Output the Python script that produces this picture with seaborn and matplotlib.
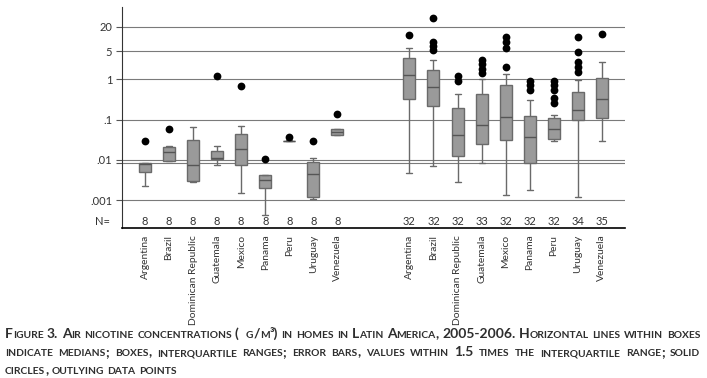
import numpy as np
import pandas as pd
import matplotlib
matplotlib.use("Agg")
import matplotlib.pyplot as plt
import matplotlib.transforms as mtransforms
from matplotlib.ticker import NullLocator
import seaborn as sns

countries = ["Argentina", "Brazil", "Dominican Republic", "Guatemala", "Mexico",
             "Panama", "Peru", "Uruguay", "Venezuela"]

# left block, N=8 per country (ug/m3)
n_left = [8, 8, 8, 8, 8, 8, 8, 8, 8]
low_left = [0.0023, 0.0094, 0.0029, 0.0075, 0.0015, 0.00043, 0.0295, 0.00105, 0.042]
q1_left = [0.0049, 0.0094, 0.0030, 0.0105, 0.0073, 0.0020, 0.0298, 0.00118, 0.042]
med_left = [0.0080, 0.016, 0.0075, 0.011, 0.0187, 0.0032, 0.030, 0.0045, 0.050]
q3_left = [0.0082, 0.0209, 0.0312, 0.0163, 0.0447, 0.0043, 0.0302, 0.0089, 0.059]
high_left = [0.0082, 0.0221, 0.0667, 0.0221, 0.068, 0.0043, 0.0305, 0.011, 0.059]
out_left = [[0.030], [0.057], [], [1.21], [0.69], [0.0107], [0.0377], [0.0294], [0.14]]

# right block, N=32..35
n_right = [32, 32, 32, 33, 32, 32, 32, 34, 35]
low_right = [0.00465, 0.0071, 0.00283, 0.0082, 0.00135, 0.00176, 0.029, 0.00118, 0.029]
q1_right = [0.33, 0.217, 0.0125, 0.0244, 0.0317, 0.0082, 0.0336, 0.10, 0.108]
med_right = [1.26, 0.63, 0.0415, 0.072, 0.114, 0.0364, 0.057, 0.173, 0.319]
q3_right = [3.32, 1.67, 0.19, 0.42, 0.72, 0.125, 0.108, 0.484, 1.10]
high_right = [5.9, 3.01, 0.43, 1.0, 1.33, 0.31, 0.13, 0.94, 2.69]
out_right = [[12.4], [32.6, 8.3, 6.7, 5.33], [1.21, 0.91], [3.0, 2.36, 1.83, 1.46],
             [11.0, 8.3, 6.1, 2.05], [0.91, 0.71, 0.54], [0.91, 0.71, 0.54, 0.337, 0.254],
             [11.0, 4.85, 2.73, 2.05, 1.54], [13.3]]

ytick_vals = [0.001, 0.0084, 0.01, 0.1, 1, 5, 20]
ytick_labels = [".001", "", ".01", ".1", "1", "5", "20"]

caption_lines = [
    "Figure 3. Air nicotine concentrations (\u00a0\u00a0g/m\u00b3) in homes in Latin America, 2005-2006. Horizontal lines within boxes",
    "indicate medians; boxes, interquartile ranges; error bars, values within 1.5 times the interquartile range; solid",
    "circles, outlying data points",
]

left_keys = [c + " (a)" for c in countries]
right_keys = [c + " (b)" for c in countries]
order = left_keys + ["gap1", "gap2"] + right_keys

box_rows = []
out_rows = []
blocks = [(left_keys, low_left, q1_left, med_left, q3_left, high_left, out_left),
          (right_keys, low_right, q1_right, med_right, q3_right, high_right, out_right)]
for keys, lo, q1, md, q3, hi, outs in blocks:
    for i, k in enumerate(keys):
        for v in (lo[i], q1[i], md[i], q3[i], hi[i]):
            box_rows.append({"slot": k, "value": v})
        for v in outs[i]:
            out_rows.append({"slot": k, "value": v})
box_df = pd.DataFrame(box_rows)
out_df = pd.DataFrame(out_rows)

sns.set_theme(style="white")
plt.rcParams["font.family"] = ["Lato", "DejaVu Sans"]

fig = plt.figure(figsize=(7.07, 3.78), dpi=100)
ax = fig.add_axes([0.1726, 0.3976, 0.7115, 0.584])

line_c = "#6a6a6a"
sns.boxplot(data=box_df, x="slot", y="value", order=order, log_scale=True,
            whis=(0, 100), showfliers=False, width=0.5, color="#9a9a9a",
            saturation=1, linecolor=line_c, linewidth=1.0, ax=ax,
            medianprops={"color": "#555555", "linewidth": 1.0},
            capprops={"color": line_c}, whiskerprops={"color": line_c})
sns.stripplot(data=out_df, x="slot", y="value", order=order, jitter=False,
              color="black", size=5.6, linewidth=0, ax=ax, zorder=5)

ax.set_ylim(0.000208, 62)
ax.set_xlim(-0.957, 19.97)
ax.set_yticks(ytick_vals)
ax.set_yticklabels(ytick_labels)
ax.yaxis.set_minor_locator(NullLocator())
ax.set_xticks(range(len(order)))
ax.set_xticklabels(countries + ["", ""] + countries, rotation=90)
ax.grid(axis="y", color="#7a7a7a", linewidth=0.8)
ax.grid(axis="x", visible=False)
ax.set_axisbelow(True)
ax.set_xlabel("")
ax.set_ylabel("")

ax.tick_params(axis="x", length=0, pad=5, labelsize=7.4, labelcolor="#333333")
ax.tick_params(axis="y", left=True, length=4, width=0.8, color="#555555",
               labelsize=8, pad=3, labelcolor="#333333")
for s in ("top", "right"):
    ax.spines[s].set_visible(False)
ax.spines["left"].set_color("#333333")
ax.spines["left"].set_linewidth(0.8)
ax.spines["bottom"].set_color("black")
ax.spines["bottom"].set_linewidth(1.2)

# N= row
trans = mtransforms.blended_transform_factory(ax.transData, ax.transAxes)
for keys, ns in ((left_keys, n_left), (right_keys, n_right)):
    for k, n in zip(keys, ns):
        ax.text(order.index(k), 0.03, str(n), transform=trans, ha="center",
                va="center", fontsize=8, color="#333333")
ax.text(-0.024, 0.03, "N=", transform=ax.transAxes, ha="right", va="center",
        fontsize=8, color="#333333")

# caption in small caps, justified
renderer = fig.canvas.get_renderer()
W, H = fig.bbox.width, fig.bbox.height
big, small = 10.0, 7.4
cap_color = "#2e2e2e"


def make_word(word, scale):
    runs = []
    for ch in word:
        sz = small if ch.islower() else big
        if runs and runs[-1][1] == sz:
            runs[-1][0] += ch.upper()
        else:
            runs.append([ch.upper(), sz])
    texts = []
    for s, sz in runs:
        t = fig.text(0, 0, s, fontsize=sz * scale, fontweight="bold",
                     color=cap_color, va="baseline", ha="left")
        texts.append(t)
    widths = [t.get_window_extent(renderer).width for t in texts]
    return texts, widths


def natural_width(line):
    # width at scale 1 with a normal word gap, used to pick a common scale
    words = [make_word(w, 1.0) for w in line.split(" ")]
    total = sum(sum(w[1]) for w in words)
    for texts, _ in words:
        for t in texts:
            t.remove()
    return total + 0.32 * small * 100 / 72 * (len(words) - 1)


def caption_line(line, y_px, x0, x1=None, scale=1.0):
    words = [make_word(w, scale) for w in line.split(" ")]
    total = sum(sum(w[1]) for w in words)
    if x1 is None:
        gap = 0.32 * small * scale * 100 / 72
    else:
        gap = (x1 - x0 - total) / (len(words) - 1)
    x = x0
    for texts, widths in words:
        for t, w in zip(texts, widths):
            t.set_position((x / W, 1 - y_px / H))
            x += w
        x += gap


scale = min(695 / natural_width(caption_lines[0]), 695 / natural_width(caption_lines[1]))
caption_line(caption_lines[0], 337.7, 5, 700, scale=scale)
caption_line(caption_lines[1], 356.0, 5, 700, scale=scale)
caption_line(caption_lines[2], 374.3, 5, None, scale=scale)

fig.savefig("out.png", dpi=100)
